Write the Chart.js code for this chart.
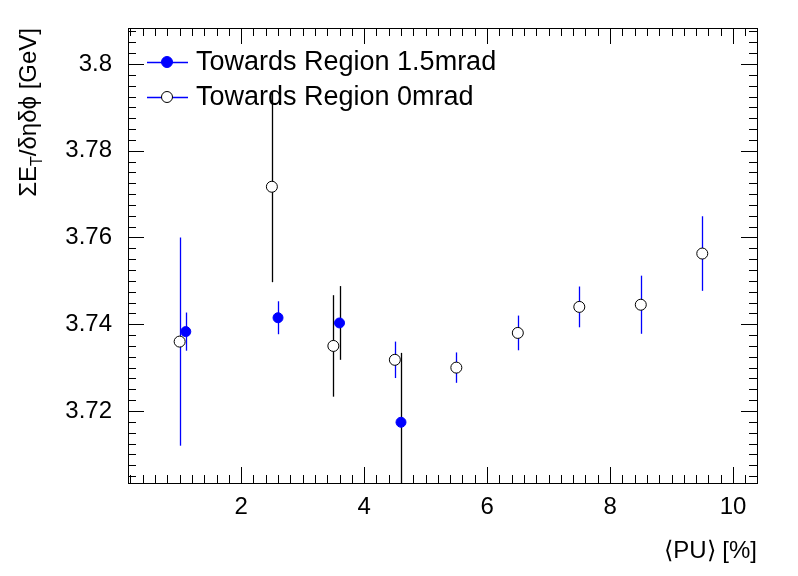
<!DOCTYPE html>
<html>
<head>
<script src="https://cdn.jsdelivr.net/npm/chart.js@4"></script>
<style>body{margin:0;background:#fff}canvas{display:block}</style>
</head>
<body>
<div style="width:798px;height:576px"><canvas id="c"></canvas></div>
<script>
// data
const filledX = [1.1, 2.6, 3.6, 4.6];
const filledY = [3.7383, 3.7415, 3.7403, 3.7174];
const filledErr = [0.0044, 0.0038, 0.0085, 0.016];
const filledErrColor = ['#0000ff', '#0000ff', '#000000', '#000000'];

const openX = [1.0, 2.5, 3.5, 4.5, 5.5, 6.5, 7.5, 8.5, 9.5];
const openY = [3.736, 3.7717, 3.735, 3.7318, 3.730, 3.738, 3.744, 3.7445, 3.7563];
const openErr = [0.024, 0.022, 0.0117, 0.0042, 0.0035, 0.004, 0.0047, 0.0067, 0.0086];
const openErrColor = ['#0000ff', '#000000', '#000000', '#0000ff', '#0000ff', '#0000ff', '#0000ff', '#0000ff', '#0000ff'];

const xTicks = [2, 4, 6, 8, 10];
const yTicks = [3.72, 3.74, 3.76, 3.78, 3.8];
const FONT = '"Liberation Sans", Arial, sans-serif';

const errBars = {
    id: 'errBars',
    beforeDatasetsDraw(chart) {
        const ctx = chart.ctx, xs = chart.scales.x, ys = chart.scales.y;
        const a = chart.chartArea;
        ctx.save();
        ctx.beginPath(); ctx.rect(a.left, a.top, a.right - a.left, a.bottom - a.top); ctx.clip();
        ctx.lineWidth = 1.3;
        const draw = (X, Y, E, C) => X.forEach((x, i) => {
            const px = Math.round(xs.getPixelForValue(x)) + 0.5;
            ctx.strokeStyle = C[i];
            ctx.beginPath();
            ctx.moveTo(px, ys.getPixelForValue(Y[i] - E[i]));
            ctx.lineTo(px, ys.getPixelForValue(Y[i] + E[i]));
            ctx.stroke();
        });
        draw(openX, openY, openErr, openErrColor);
        draw(filledX, filledY, filledErr, filledErrColor);
        ctx.restore();
    },
    afterDraw(chart) {
        const ctx = chart.ctx, xs = chart.scales.x, ys = chart.scales.y;
        const a = chart.chartArea;
        ctx.save();
        ctx.strokeStyle = '#000'; ctx.lineWidth = 1;
        ctx.strokeRect(a.left + 0.5, a.top + 0.5, a.right - a.left, a.bottom - a.top);
        ctx.beginPath();
        for (let v = 0.2; v <= 10.4; v += 0.2) {
            const px = Math.round(xs.getPixelForValue(v)) + 0.5;
            if (px <= a.left || px >= a.right) continue;
            const major = Math.abs(v / 2 - Math.round(v / 2)) < 1e-6;
            const L = major ? 16 : 8;
            ctx.moveTo(px, a.bottom); ctx.lineTo(px, a.bottom - L);
            ctx.moveTo(px, a.top); ctx.lineTo(px, a.top + L);
        }
        for (let k = 0; k <= 60; k++) {
            const v = 3.70 + k * 0.0025;
            const py = Math.round(ys.getPixelForValue(v)) + 0.5;
            if (py <= a.top || py >= a.bottom) continue;
            const major = k % 8 === 0;
            const L = major ? 16 : 8;
            ctx.moveTo(a.left, py); ctx.lineTo(a.left + L, py);
            ctx.moveTo(a.right, py); ctx.lineTo(a.right - L, py);
        }
        ctx.stroke();

        // axis titles
        ctx.fillStyle = '#000';
        ctx.font = '24px ' + FONT;
        ctx.textAlign = 'right'; ctx.textBaseline = 'alphabetic';
        ctx.fillText('⟨PU⟩ [%]', a.right, 558);
        ctx.save();
        ctx.translate(36, a.top);
        ctx.rotate(-Math.PI / 2);
        ctx.textAlign = 'left';
        const big = '24px ' + FONT, small = '16px ' + FONT;
        ctx.font = big; const w1 = ctx.measureText('ΣE').width;
        ctx.font = small; const w2 = ctx.measureText('T').width;
        ctx.font = big; const w3 = ctx.measureText('/δηδϕ [GeV]').width;
        let p = -(w1 + w2 + w3);
        ctx.font = big; ctx.fillText('ΣE', p, 0); p += w1;
        ctx.font = small; ctx.fillText('T', p, 6); p += w2;
        ctx.font = big; ctx.fillText('/δηδϕ [GeV]', p, 0);
        ctx.restore();

        // legend
        const rows = [['Towards Region 1.5mrad', true, 62], ['Towards Region 0mrad', false, 97]];
        ctx.font = '27px ' + FONT; ctx.textAlign = 'left'; ctx.textBaseline = 'middle';
        rows.forEach(([t, filled, y]) => {
            ctx.strokeStyle = '#0000ff'; ctx.lineWidth = 1.3;
            ctx.beginPath(); ctx.moveTo(147, y + 0.5); ctx.lineTo(188, y + 0.5); ctx.stroke();
            ctx.lineWidth = 1;
            ctx.beginPath(); ctx.arc(167, y, 5.5, 0, Math.PI * 2);
            ctx.fillStyle = filled ? '#0000ff' : '#fff'; ctx.fill();
            ctx.strokeStyle = filled ? '#0000ff' : '#000'; ctx.stroke();
            ctx.fillStyle = '#000';
            ctx.fillText(t, 196, y + 1);
        });
        ctx.restore();
    }
};

new Chart(document.getElementById('c'), {
    type: 'scatter',
    data: {
        datasets: [
            {
                label: 'Towards Region 0mrad',
                data: openX.map((x, i) => ({ x, y: openY[i] })),
                pointRadius: 5.5, pointBackgroundColor: '#fff', pointBorderColor: '#000', pointBorderWidth: 1
            },
            {
                label: 'Towards Region 1.5mrad',
                data: filledX.map((x, i) => ({ x, y: filledY[i] })),
                pointRadius: 5, pointBackgroundColor: '#0000ff', pointBorderColor: '#0000ff', pointBorderWidth: 1
            }
        ]
    },
    options: {
        responsive: true, maintainAspectRatio: false, animation: false,
        layout: { padding: { top: 28, right: 41, left: 0, bottom: 0 } },
        plugins: { legend: { display: false }, tooltip: { enabled: false } },
        scales: {
            x: {
                type: 'linear', min: 0.16, max: 10.39,
                afterFit: s => { s.height = 93; },
                afterBuildTicks: s => { s.ticks = xTicks.map(v => ({ value: v })); },
                grid: { display: false }, border: { display: false },
                ticks: { color: '#000', font: { family: FONT, size: 24 }, padding: 2 }
            },
            y: {
                type: 'linear', min: 3.7034, max: 3.8083,
                afterFit: s => { s.width = 128; },
                afterBuildTicks: s => { s.ticks = yTicks.map(v => ({ value: v })); },
                grid: { display: false }, border: { display: false },
                ticks: { color: '#000', font: { family: FONT, size: 24 }, padding: 8,
                    callback: v => (Math.abs(v - 3.8) < 1e-9 ? '3.8' : v.toFixed(2)) }
            }
        }
    },
    plugins: [errBars]
});
</script>
</body>
</html>
